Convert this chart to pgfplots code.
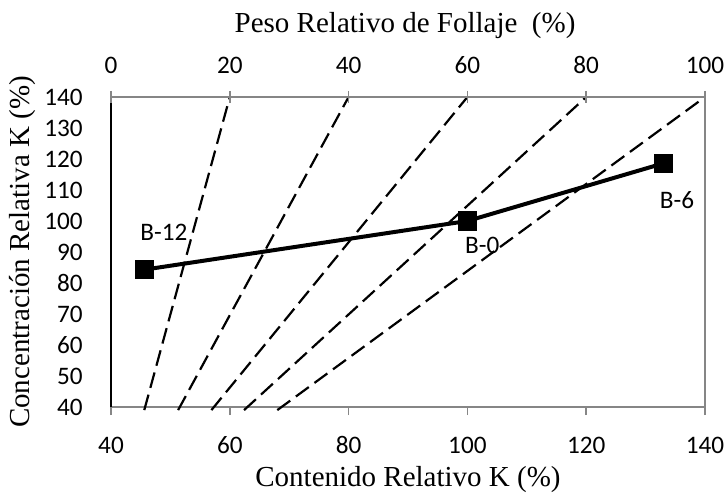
\documentclass[border=0pt]{standalone}
\usepackage{pgfplots}
\pgfplotsset{compat=1.18}
\usepackage{fontspec}
\setmainfont{Liberation Serif}
\newfontfamily\calfont{Carlito}
\definecolor{framegray}{RGB}{134,134,134}
\begin{document}
\begin{tikzpicture}
\begin{axis}[
  at={(0,0)}, anchor=south west,
  scale only axis, width=297pt, height=155pt,
  xmin=40, xmax=140, ymin=40, ymax=140,
  xtick={40,60,...,140}, ytick={40,50,...,140},
  xtick pos=bottom, ytick pos=left,
  xtick align=outside, ytick align=inside,
  major tick length=4pt,
  y tick style={draw=none},
  x tick style={framegray, line width=0.8pt},
  axis line style={framegray, line width=0.8pt},
  /pgf/number format/assume math mode=true,
  tick label style={font=\calfont\fontsize{12.6}{12.6}\selectfont},
  xticklabel style={anchor=center, yshift=-15pt},
  yticklabel style={anchor=east, inner sep=0pt, xshift=-14pt},
  xlabel={Contenido Relativo K (\%)},
  ylabel={Concentración Relativa K (\%)},
  label style={font=\fontsize{14.5}{14.5}\selectfont},
  xlabel style={at={(axis description cs:0.5,-0.2355)}, anchor=center},
  ylabel style={at={(axis description cs:-0.1498,0.5)}, anchor=center},
  clip=false,
]
\draw[black, line width=0.8pt] (axis cs:40,40) -- (axis cs:40,140);
\addplot[black, line width=1.1pt, dash pattern=on 8pt off 3.5pt] coordinates {(45.6,39) (60,140)};
\addplot[black, line width=1.1pt, dash pattern=on 8pt off 3.5pt] coordinates {(51.3,39) (80,140)};
\addplot[black, line width=1.1pt, dash pattern=on 8pt off 3.5pt] coordinates {(56.9,39) (100,140)};
\addplot[black, line width=1.1pt, dash pattern=on 8pt off 3.5pt] coordinates {(62.4,39) (120,140)};
\addplot[black, line width=1.1pt, dash pattern=on 8pt off 3.5pt] coordinates {(68.0,39) (140,140)};
\addplot[black, line width=2pt, mark=square*, mark size=3.8pt, mark options={solid}] coordinates {(45.6,84.3) (100,100) (133,118.6)};
\node[font=\calfont\fontsize{12.6}{12.6}\selectfont] at (axis cs:48.9,96.5) {B-12};
\node[font=\calfont\fontsize{12.6}{12.6}\selectfont] at (axis cs:102.5,92) {B-0};
\node[font=\calfont\fontsize{12.6}{12.6}\selectfont] at (axis cs:135.3,106.8) {B-6};
\end{axis}
\begin{axis}[
  at={(0,0)}, anchor=south west,
  scale only axis, width=297pt, height=155pt,
  xmin=0, xmax=100, ymin=40, ymax=140,
  axis x line*=top, axis y line=none,
  xtick={0,20,...,100},
  xtick align=center, major tick length=6pt,
  x tick style={framegray, line width=0.8pt},
  axis line style={framegray, line width=0.8pt, -},
  /pgf/number format/assume math mode=true,
  tick label style={font=\calfont\fontsize{12.6}{12.6}\selectfont},
  xticklabel style={anchor=center, yshift=13pt},
  xlabel={Peso Relativo de Follaje\ \ (\%)},
  label style={font=\fontsize{14.5}{14.5}\selectfont},
  xlabel style={at={(axis description cs:0.495,1.229)}, anchor=center},
]
\end{axis}
\pgfresetboundingbox
\path[use as bounding box] (-55.5pt,-45pt) rectangle (307.5pt,203.5pt);
\end{tikzpicture}
\end{document}
